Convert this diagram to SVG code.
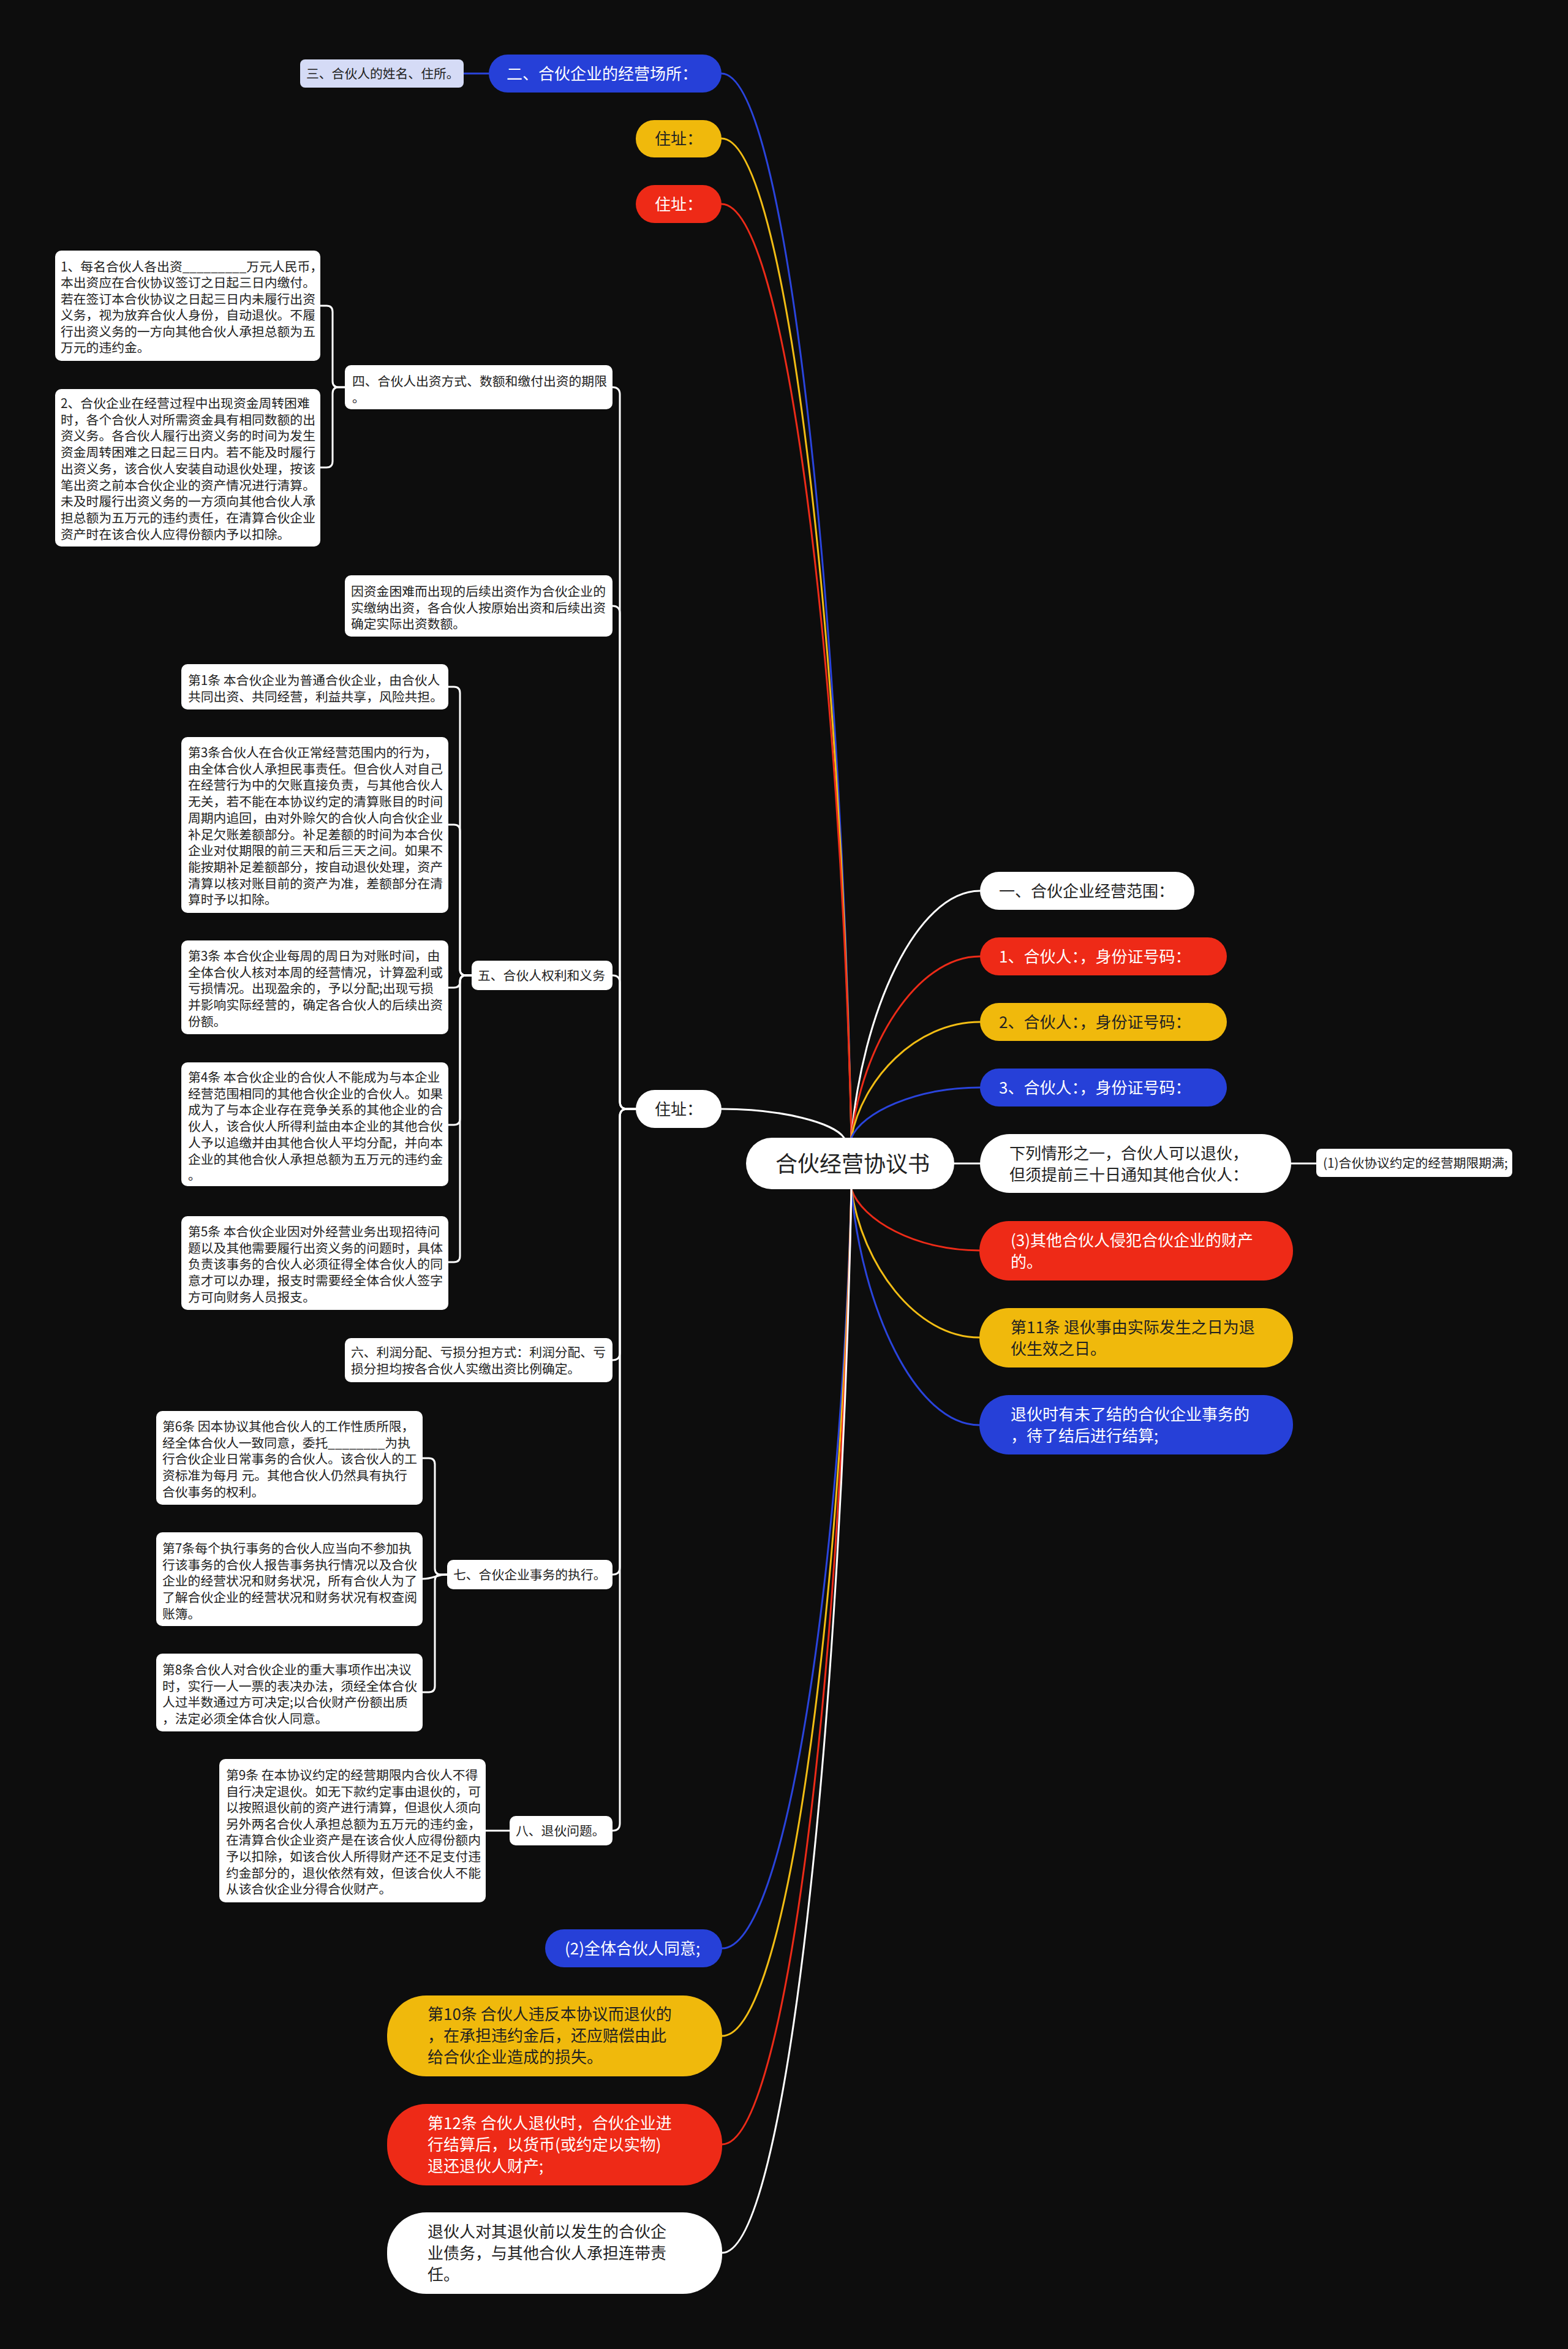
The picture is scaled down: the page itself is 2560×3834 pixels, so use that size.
<svg xmlns="http://www.w3.org/2000/svg" width="2560" height="3834" viewBox="0 0 2560 3834">
<style>
text{font-family:"Noto Sans CJK SC","Noto Sans",sans-serif;}
.f26{font-size:26px}
.f21{font-size:20.8px}
.f36{font-size:36px}
.dk{fill:#222}
.lt{fill:#fff}
.nw{fill:#fff}
.nr{fill:#ee2a17}
.ny{fill:#f0b90c}
.nb{fill:#2640d8}
.nl{fill:#d5dbf6}
.bx{fill:#fff}
#connectors path{fill:none;stroke-width:3;stroke-linecap:round}
.cw{stroke:#fff}
.cr{stroke:#ec2b18}
.cy{stroke:#f2bd14}
.cb{stroke:#2a44dc}
</style>
<rect width="2560" height="3834" fill="#0d0d0d"/>
<g id="connectors">
<path class="cb" d="M1390,1857 C1373,988 1284,120 1178,120"/>
<path class="cy" d="M1390,1857 C1373,1041 1284,226 1178,226"/>
<path class="cr" d="M1390,1857 C1373,1095 1284,333 1178,333"/>
<path class="cw" d="M1378,1857 C1362,1833 1278,1810 1178,1810"/>
<path class="cb" d="M757,120 H798"/>
<path class="cw" d="M1390,1857 C1407,1655 1495,1454 1600,1454"/>
<path class="cr" d="M1390,1857 C1407,1709 1495,1561 1600,1561"/>
<path class="cy" d="M1390,1857 C1407,1762 1495,1668 1600,1668"/>
<path class="cb" d="M1390,1857 C1407,1816 1495,1775 1600,1775"/>
<path class="cw" d="M1558,1899 H1600"/>
<path class="cw" d="M2108,1899 H2149"/>
<path class="cr" d="M1390,1941 C1407,1991 1494,2041 1599,2041"/>
<path class="cy" d="M1390,1941 C1407,2062 1494,2183 1599,2183"/>
<path class="cb" d="M1390,1941 C1407,2133 1494,2326 1599,2326"/>
<path class="cb" d="M1390,1941 C1373,2560 1284,3180 1179,3180"/>
<path class="cy" d="M1390,1941 C1373,2632 1284,3323 1179,3323"/>
<path class="cr" d="M1390,1941 C1373,2720 1284,3500 1179,3500"/>
<path class="cw" d="M1390,1941 C1373,2809 1284,3677 1179,3677"/>
<path class="cw" d="M1038,1810 H1024 Q1012,1810 1012,1798 V644 Q1012,632 1000,632"/>
<path class="cw" d="M1038,1810 H1024 Q1012,1810 1012,1798 V1001 Q1012,989 1000,989"/>
<path class="cw" d="M1038,1810 H1024 Q1012,1810 1012,1798 V1604 Q1012,1592 1000,1592"/>
<path class="cw" d="M1038,1810 H1024 Q1012,1810 1012,1822 V2208 Q1012,2220 1000,2220"/>
<path class="cw" d="M1038,1810 H1024 Q1012,1810 1012,1822 V2558 Q1012,2570 1000,2570"/>
<path class="cw" d="M1038,1810 H1024 Q1012,1810 1012,1822 V2976 Q1012,2988 1000,2988"/>
<path class="cw" d="M563,632 H553 Q543,632 543,622 V509 Q543,499 533,499 H523"/>
<path class="cw" d="M563,632 H553 Q543,632 543,642 V753 Q543,763 533,763 H523"/>
<path class="cw" d="M770,1592 H761 Q751,1592 751,1582 V1131 Q751,1121 741,1121 H732"/>
<path class="cw" d="M770,1592 H761 Q751,1592 751,1582 V1356 Q751,1346 741,1346 H732"/>
<path class="cw" d="M770,1592 H761 Q751,1592 751,1602 Q751,1612 741,1612 H732"/>
<path class="cw" d="M770,1592 H761 Q751,1592 751,1602 V1826 Q751,1836 741,1836 H732"/>
<path class="cw" d="M770,1592 H761 Q751,1592 751,1602 V2050 Q751,2060 741,2060 H732"/>
<path class="cw" d="M730,2570 H720 Q710,2570 710,2560 V2390 Q710,2380 700,2380 H690"/>
<path class="cw" d="M730,2570 C712,2570 708,2577 690,2577"/>
<path class="cw" d="M730,2570 H720 Q710,2570 710,2580 V2752 Q710,2762 700,2762 H690"/>
<path class="cw" d="M832,2988 H793"/>
</g>
<g id="root"><rect class="nw" x="1218" y="1857" width="340" height="84" rx="42"/><text class="f36 dk" x="1392" y="1913" text-anchor="middle">合伙经营协议书</text></g>
<g id="r1"><rect class="nw" x="1600" y="1423" width="350" height="62" rx="31"/><text class="f26 dk" x="1631" y="1464">一、合伙企业经营范围：</text></g>
<g id="r2"><rect class="nr" x="1600" y="1530" width="403" height="62" rx="31"/><text class="f26 lt" x="1631" y="1571">1、合伙人：，身份证号码：</text></g>
<g id="r3"><rect class="ny" x="1600" y="1637" width="403" height="62" rx="31"/><text class="f26 dk" x="1631" y="1678">2、合伙人：，身份证号码：</text></g>
<g id="r4"><rect class="nb" x="1600" y="1744" width="403" height="62" rx="31"/><text class="f26 lt" x="1631" y="1785">3、合伙人：，身份证号码：</text></g>
<g id="r5"><rect class="nw" x="1600" y="1851" width="508" height="96" rx="48"/><text class="f26 dk" x="1648" y="1892"><tspan x="1648">下列情形之一，合伙人可以退伙，</tspan><tspan x="1648" dy="35">但须提前三十日通知其他合伙人：</tspan></text></g>
<g id="r6"><rect class="bx" x="2149" y="1875" width="320" height="46" rx="8"/><text class="f21 dk" x="2160" y="1906">(1)合伙协议约定的经营期限期满;</text></g>
<g id="r7"><rect class="nr" x="1599" y="1993" width="512" height="97" rx="48"/><text class="f26 lt" x="1650" y="2034"><tspan x="1650">(3)其他合伙人侵犯合伙企业的财产</tspan><tspan x="1650" dy="35">的。</tspan></text></g>
<g id="r8"><rect class="ny" x="1599" y="2135" width="512" height="97" rx="48"/><text class="f26 dk" x="1650" y="2176"><tspan x="1650">第11条 退伙事由实际发生之日为退</tspan><tspan x="1650" dy="35">伙生效之日。</tspan></text></g>
<g id="r9"><rect class="nb" x="1599" y="2277" width="512" height="97" rx="48"/><text class="f26 lt" x="1650" y="2318"><tspan x="1650">退伙时有未了结的合伙企业事务的</tspan><tspan x="1650" dy="35">，待了结后进行结算;</tspan></text></g>
<g id="l1"><rect class="nl" x="490" y="97" width="267" height="46" rx="8"/><text class="f21 dk" x="500" y="128">三、合伙人的姓名、住所。</text></g>
<g id="l2"><rect class="nb" x="798" y="89" width="380" height="62" rx="31"/><text class="f26 lt" x="827" y="130">二、合伙企业的经营场所：</text></g>
<g id="l3"><rect class="ny" x="1038" y="196" width="140" height="61" rx="30"/><text class="f26 dk" x="1069" y="236">住址：</text></g>
<g id="l4"><rect class="nr" x="1038" y="302" width="140" height="62" rx="31"/><text class="f26 lt" x="1069" y="343">住址：</text></g>
<g id="l5"><rect class="nw" x="1038" y="1779" width="140" height="62" rx="31"/><text class="f26 dk" x="1069" y="1820">住址：</text></g>
<g id="b4"><rect class="bx" x="563" y="596" width="437" height="72" rx="10"/><text class="f21 dk" x="575" y="630"><tspan x="575">四、合伙人出资方式、数额和缴付出资的期限</tspan><tspan x="575" dy="27">。</tspan></text></g>
<g id="b4a"><rect class="bx" x="90" y="409" width="433" height="180" rx="10"/><text class="f21 dk" x="99" y="443"><tspan x="99">1、每名合伙人各出资_________万元人民币，</tspan><tspan x="99" dy="26.4">本出资应在合伙协议签订之日起三日内缴付。</tspan><tspan x="99" dy="26.4">若在签订本合伙协议之日起三日内未履行出资</tspan><tspan x="99" dy="26.4">义务，视为放弃合伙人身份，自动退伙。不履</tspan><tspan x="99" dy="26.4">行出资义务的一方向其他合伙人承担总额为五</tspan><tspan x="99" dy="26.4">万元的违约金。</tspan></text></g>
<g id="b4b"><rect class="bx" x="90" y="635" width="433" height="257" rx="10"/><text class="f21 dk" x="99" y="666"><tspan x="99">2、合伙企业在经营过程中出现资金周转困难</tspan><tspan x="99" dy="26.7">时，各个合伙人对所需资金具有相同数额的出</tspan><tspan x="99" dy="26.7">资义务。各合伙人履行出资义务的时间为发生</tspan><tspan x="99" dy="26.7">资金周转困难之日起三日内。若不能及时履行</tspan><tspan x="99" dy="26.7">出资义务，该合伙人安装自动退伙处理，按该</tspan><tspan x="99" dy="26.7">笔出资之前本合伙企业的资产情况进行清算。</tspan><tspan x="99" dy="26.7">未及时履行出资义务的一方须向其他合伙人承</tspan><tspan x="99" dy="26.7">担总额为五万元的违约责任，在清算合伙企业</tspan><tspan x="99" dy="26.7">资产时在该合伙人应得份额内予以扣除。</tspan></text></g>
<g id="byin"><rect class="bx" x="563" y="939" width="437" height="100" rx="10"/><text class="f21 dk" x="573" y="973"><tspan x="573">因资金困难而出现的后续出资作为合伙企业的</tspan><tspan x="573" dy="26.5">实缴纳出资，各合伙人按原始出资和后续出资</tspan><tspan x="573" dy="26.5">确定实际出资数额。</tspan></text></g>
<g id="b5"><rect class="bx" x="770" y="1568" width="230" height="48" rx="10"/><text class="f21 dk" x="780" y="1600">五、合伙人权利和义务</text></g>
<g id="b5a"><rect class="bx" x="296" y="1084" width="436" height="74" rx="10"/><text class="f21 dk" x="307" y="1118"><tspan x="307">第1条 本合伙企业为普通合伙企业，由合伙人</tspan><tspan x="307" dy="27">共同出资、共同经营，利益共享，风险共担。</tspan></text></g>
<g id="b5b"><rect class="bx" x="296" y="1203" width="436" height="287" rx="10"/><text class="f21 dk" x="307" y="1236"><tspan x="307">第3条合伙人在合伙正常经营范围内的行为，</tspan><tspan x="307" dy="26.7">由全体合伙人承担民事责任。但合伙人对自己</tspan><tspan x="307" dy="26.7">在经营行为中的欠账直接负责，与其他合伙人</tspan><tspan x="307" dy="26.7">无关，若不能在本协议约定的清算账目的时间</tspan><tspan x="307" dy="26.7">周期内追回，由对外赊欠的合伙人向合伙企业</tspan><tspan x="307" dy="26.7">补足欠账差额部分。补足差额的时间为本合伙</tspan><tspan x="307" dy="26.7">企业对仗期限的前三天和后三天之间。如果不</tspan><tspan x="307" dy="26.7">能按期补足差额部分，按自动退伙处理，资产</tspan><tspan x="307" dy="26.7">清算以核对账目前的资产为准，差额部分在清</tspan><tspan x="307" dy="26.7">算时予以扣除。</tspan></text></g>
<g id="b5c"><rect class="bx" x="296" y="1535" width="436" height="153" rx="10"/><text class="f21 dk" x="307" y="1568"><tspan x="307">第3条 本合伙企业每周的周日为对账时间，由</tspan><tspan x="307" dy="26.7">全体合伙人核对本周的经营情况，计算盈利或</tspan><tspan x="307" dy="26.7">亏损情况。出现盈余的，予以分配;出现亏损</tspan><tspan x="307" dy="26.7">并影响实际经营的，确定各合伙人的后续出资</tspan><tspan x="307" dy="26.7">份额。</tspan></text></g>
<g id="b5d"><rect class="bx" x="296" y="1734" width="436" height="202" rx="10"/><text class="f21 dk" x="307" y="1766"><tspan x="307">第4条 本合伙企业的合伙人不能成为与本企业</tspan><tspan x="307" dy="26.7">经营范围相同的其他合伙企业的合伙人。如果</tspan><tspan x="307" dy="26.7">成为了与本企业存在竞争关系的其他企业的合</tspan><tspan x="307" dy="26.7">伙人，该合伙人所得利益由本企业的其他合伙</tspan><tspan x="307" dy="26.7">人予以追缴并由其他合伙人平均分配，并向本</tspan><tspan x="307" dy="26.7">企业的其他合伙人承担总额为五万元的违约金</tspan><tspan x="307" dy="26.7">。</tspan></text></g>
<g id="b5e"><rect class="bx" x="296" y="1985" width="436" height="153" rx="10"/><text class="f21 dk" x="307" y="2018"><tspan x="307">第5条 本合伙企业因对外经营业务出现招待问</tspan><tspan x="307" dy="26.7">题以及其他需要履行出资义务的问题时，具体</tspan><tspan x="307" dy="26.7">负责该事务的合伙人必须征得全体合伙人的同</tspan><tspan x="307" dy="26.7">意才可以办理，报支时需要经全体合伙人签字</tspan><tspan x="307" dy="26.7">方可向财务人员报支。</tspan></text></g>
<g id="b6"><rect class="bx" x="563" y="2184" width="437" height="72" rx="10"/><text class="f21 dk" x="573" y="2215"><tspan x="573">六、利润分配、亏损分担方式：利润分配、亏</tspan><tspan x="573" dy="27">损分担均按各合伙人实缴出资比例确定。</tspan></text></g>
<g id="b7"><rect class="bx" x="730" y="2546" width="270" height="48" rx="10"/><text class="f21 dk" x="740" y="2578">七、合伙企业事务的执行。</text></g>
<g id="b7a"><rect class="bx" x="255" y="2303" width="435" height="153" rx="10"/><text class="f21 dk" x="265" y="2336"><tspan x="265">第6条 因本协议其他合伙人的工作性质所限，</tspan><tspan x="265" dy="26.7">经全体合伙人一致同意，委托________为执</tspan><tspan x="265" dy="26.7">行合伙企业日常事务的合伙人。该合伙人的工</tspan><tspan x="265" dy="26.7">资标准为每月 元。其他合伙人仍然具有执行</tspan><tspan x="265" dy="26.7">合伙事务的权利。</tspan></text></g>
<g id="b7b"><rect class="bx" x="255" y="2501" width="435" height="153" rx="10"/><text class="f21 dk" x="265" y="2535"><tspan x="265">第7条每个执行事务的合伙人应当向不参加执</tspan><tspan x="265" dy="26.7">行该事务的合伙人报告事务执行情况以及合伙</tspan><tspan x="265" dy="26.7">企业的经营状况和财务状况，所有合伙人为了</tspan><tspan x="265" dy="26.7">了解合伙企业的经营状况和财务状况有权查阅</tspan><tspan x="265" dy="26.7">账簿。</tspan></text></g>
<g id="b7c"><rect class="bx" x="255" y="2699" width="435" height="127" rx="10"/><text class="f21 dk" x="265" y="2733"><tspan x="265">第8条合伙人对合伙企业的重大事项作出决议</tspan><tspan x="265" dy="26.7">时，实行一人一票的表决办法，须经全体合伙</tspan><tspan x="265" dy="26.7">人过半数通过方可决定;以合伙财产份额出质</tspan><tspan x="265" dy="26.7">，法定必须全体合伙人同意。</tspan></text></g>
<g id="b8"><rect class="bx" x="832" y="2964" width="168" height="48" rx="10"/><text class="f21 dk" x="842" y="2996">八、退伙问题。</text></g>
<g id="b8a"><rect class="bx" x="358" y="2871" width="435" height="234" rx="10"/><text class="f21 dk" x="369" y="2905"><tspan x="369">第9条 在本协议约定的经营期限内合伙人不得</tspan><tspan x="369" dy="26.6">自行决定退伙。如无下款约定事由退伙的，可</tspan><tspan x="369" dy="26.6">以按照退伙前的资产进行清算，但退伙人须向</tspan><tspan x="369" dy="26.6">另外两名合伙人承担总额为五万元的违约金，</tspan><tspan x="369" dy="26.6">在清算合伙企业资产是在该合伙人应得份额内</tspan><tspan x="369" dy="26.6">予以扣除，如该合伙人所得财产还不足支付违</tspan><tspan x="369" dy="26.6">约金部分的，退伙依然有效，但该合伙人不能</tspan><tspan x="369" dy="26.6">从该合伙企业分得合伙财产。</tspan></text></g>
<g id="p2"><rect class="nb" x="890" y="3149" width="289" height="62" rx="31"/><text class="f26 lt" x="922" y="3190">(2)全体合伙人同意;</text></g>
<g id="p10"><rect class="ny" x="632" y="3257" width="547" height="132" rx="64"/><text class="f26 dk" x="698" y="3297"><tspan x="698">第10条 合伙人违反本协议而退伙的</tspan><tspan x="698" dy="35">，在承担违约金后，还应赔偿由此</tspan><tspan x="698" dy="35">给合伙企业造成的损失。</tspan></text></g>
<g id="p12"><rect class="nr" x="632" y="3434" width="547" height="133" rx="64"/><text class="f26 lt" x="698" y="3475"><tspan x="698">第12条 合伙人退伙时，合伙企业进</tspan><tspan x="698" dy="35">行结算后，以货币(或约定以实物)</tspan><tspan x="698" dy="35">退还退伙人财产;</tspan></text></g>
<g id="ptui"><rect class="nw" x="632" y="3611" width="547" height="133" rx="64"/><text class="f26 dk" x="698" y="3652"><tspan x="698">退伙人对其退伙前以发生的合伙企</tspan><tspan x="698" dy="35">业债务，与其他合伙人承担连带责</tspan><tspan x="698" dy="35">任。</tspan></text></g>
</svg>
